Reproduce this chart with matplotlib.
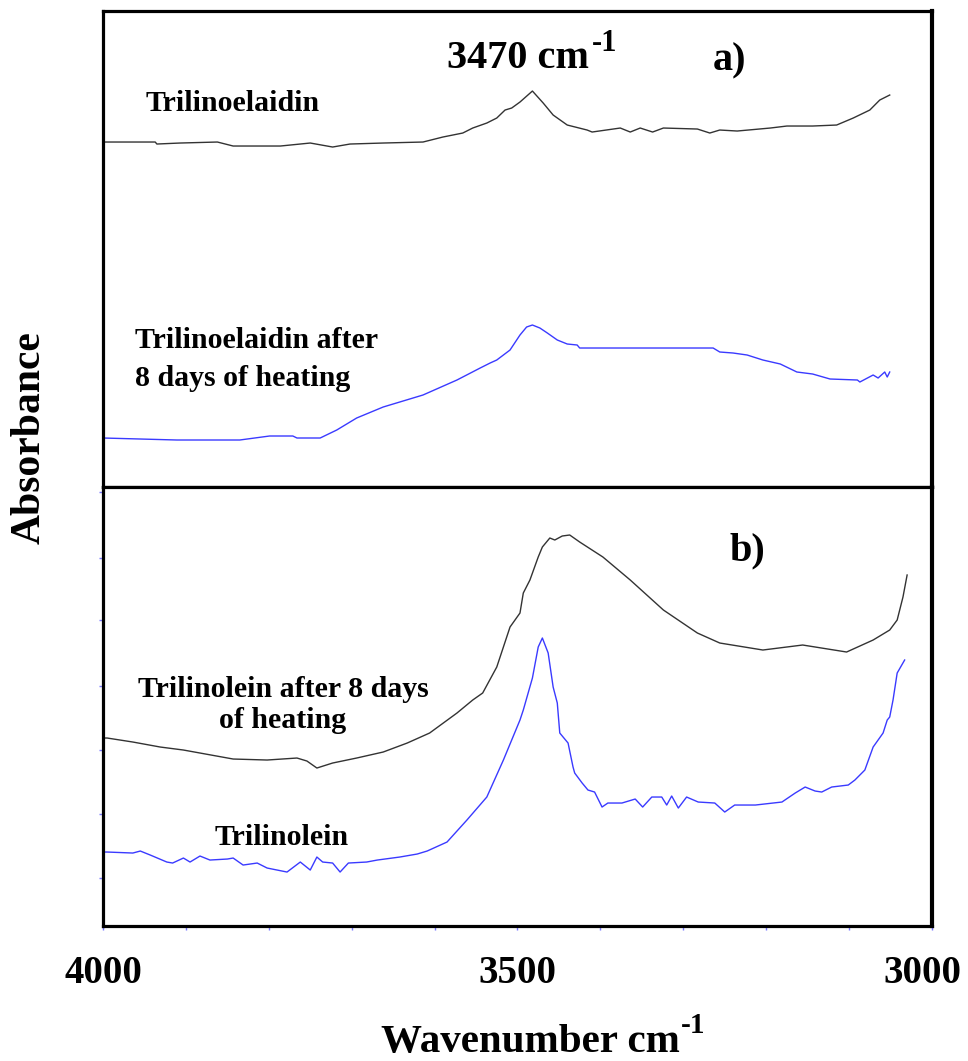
import numpy as np
import matplotlib
matplotlib.use('Agg')
import matplotlib.pyplot as plt
import matplotlib.transforms as mtransforms

plt.rcParams['font.family'] = ['Liberation Serif', 'DejaVu Serif']
plt.rcParams['font.weight'] = 'bold'

# spectra: (wavenumber cm-1, absorbance in arbitrary offset units)
trilinoelaidin = np.array([
    (4000, 3.45), (3937, 3.45), (3935, 3.43), (3907, 3.44), (3862, 3.45), (3843, 3.41),
    (3786, 3.41), (3750, 3.44), (3723, 3.40), (3702, 3.43), (3662, 3.44), (3614, 3.45),
    (3590, 3.50), (3566, 3.54), (3554, 3.59), (3537, 3.64), (3525, 3.69), (3515, 3.77),
    (3507, 3.79), (3497, 3.85), (3482, 3.96), (3469, 3.84), (3457, 3.72), (3440, 3.62),
    (3416, 3.57), (3410, 3.55), (3376, 3.59), (3364, 3.55), (3352, 3.59), (3337, 3.55),
    (3324, 3.59), (3283, 3.58), (3268, 3.54), (3256, 3.57), (3235, 3.56), (3195, 3.59),
    (3175, 3.61), (3144, 3.61), (3115, 3.62), (3095, 3.69), (3075, 3.77), (3063, 3.87),
    (3051, 3.92)])

trilinoelaidin_heated = np.array([
    (4000, 0.49), (3911, 0.47), (3835, 0.47), (3799, 0.51), (3771, 0.51), (3766, 0.49),
    (3738, 0.49), (3718, 0.57), (3694, 0.69), (3662, 0.80), (3614, 0.92), (3573, 1.07),
    (3545, 1.19), (3533, 1.24), (3525, 1.27), (3509, 1.37), (3497, 1.52), (3489, 1.60),
    (3482, 1.62), (3473, 1.59), (3464, 1.54), (3452, 1.47), (3440, 1.43), (3428, 1.42),
    (3425, 1.39), (3304, 1.39), (3264, 1.39), (3256, 1.35), (3240, 1.34), (3223, 1.32),
    (3204, 1.27), (3183, 1.23), (3163, 1.15), (3144, 1.13), (3123, 1.08), (3090, 1.07),
    (3087, 1.05), (3071, 1.12), (3065, 1.09), (3057, 1.15), (3054, 1.10), (3051, 1.15)])

trilinolein_heated = np.array([
    (4000, 1.88), (3995, 1.88), (3964, 1.84), (3931, 1.79), (3903, 1.76), (3883, 1.73),
    (3843, 1.67), (3802, 1.66), (3766, 1.68), (3754, 1.65), (3742, 1.58), (3723, 1.63),
    (3694, 1.68), (3662, 1.74), (3633, 1.83), (3606, 1.93), (3573, 2.13), (3554, 2.26),
    (3542, 2.33), (3525, 2.59), (3509, 2.99), (3497, 3.13), (3493, 3.33), (3485, 3.46),
    (3475, 3.69), (3470, 3.79), (3461, 3.88), (3455, 3.86), (3446, 3.90), (3437, 3.91),
    (3425, 3.84), (3397, 3.69), (3364, 3.46), (3324, 3.16), (3283, 2.93), (3256, 2.83),
    (3204, 2.76), (3156, 2.81), (3103, 2.74), (3071, 2.86), (3051, 2.96), (3042, 3.06),
    (3035, 3.29), (3030, 3.51)])

trilinolein = np.array([
    (4000, 0.74), (3995, 0.74), (3964, 0.73), (3955, 0.75), (3943, 0.71), (3923, 0.64),
    (3916, 0.63), (3903, 0.68), (3895, 0.64), (3883, 0.70), (3871, 0.66), (3850, 0.67),
    (3843, 0.68), (3831, 0.61), (3814, 0.63), (3802, 0.58), (3778, 0.54), (3762, 0.64),
    (3750, 0.56), (3742, 0.69), (3735, 0.64), (3723, 0.63), (3714, 0.54), (3704, 0.63),
    (3682, 0.64), (3669, 0.66), (3642, 0.69), (3621, 0.72), (3609, 0.75), (3585, 0.84),
    (3561, 1.06), (3537, 1.29), (3517, 1.66), (3497, 2.06), (3493, 2.16), (3482, 2.48),
    (3475, 2.79), (3470, 2.88), (3463, 2.73), (3457, 2.39), (3452, 2.23), (3449, 1.93),
    (3439, 1.83), (3433, 1.59), (3431, 1.53), (3422, 1.43), (3415, 1.36), (3407, 1.34),
    (3398, 1.19), (3391, 1.23), (3374, 1.23), (3358, 1.27), (3349, 1.19), (3338, 1.29),
    (3326, 1.29), (3320, 1.21), (3314, 1.30), (3306, 1.18), (3296, 1.29), (3282, 1.24),
    (3262, 1.23), (3250, 1.14), (3238, 1.21), (3213, 1.21), (3181, 1.24), (3165, 1.33),
    (3153, 1.39), (3141, 1.35), (3133, 1.34), (3121, 1.39), (3101, 1.41), (3093, 1.46),
    (3081, 1.56), (3071, 1.79), (3059, 1.93), (3054, 2.06), (3051, 2.09), (3047, 2.26),
    (3042, 2.53), (3033, 2.66)])

x_ticks = [4000, 3500, 3000]
x_ticklabels = ['4000', '3500', '3000']

fig = plt.figure(figsize=(9.68, 10.61), dpi=100)
ax_top = fig.add_axes([0.1064, 0.541, 0.8564, 0.4486])
ax_bot = fig.add_axes([0.1064, 0.1272, 0.8564, 0.4138])

black = '#333333'
blue = '#3a3aff'
tick_col = '#7a7aff'

# panel a)
ax_top.plot(trilinoelaidin[:, 0], trilinoelaidin[:, 1], color=black, lw=1.0)
ax_top.plot(trilinoelaidin_heated[:, 0], trilinoelaidin_heated[:, 1], color=blue, lw=1.0)
ax_top.set_xlim(4000, 3000)
ax_top.set_ylim(0, 4.76)
ax_top.tick_params(length=0, labelbottom=False, labelleft=False)

ax_top.text(3949, 3.76, 'Trilinoelaidin', fontsize=21.5, ha='left', va='baseline')
peak_txt = ax_top.text(3585, 4.19, '3470 cm', fontsize=29, ha='left', va='baseline')
ax_top.annotate('-1', xy=(1, 0.52), xycoords=peak_txt, xytext=(2, 0),
                textcoords='offset points', fontsize=22, ha='left', va='bottom')
ax_top.text(3264, 4.17, 'a)', fontsize=29, ha='left', va='baseline')
ax_top.text(3961, 1.39, 'Trilinoelaidin after', fontsize=21.5, ha='left', va='baseline')
ax_top.text(3961, 1.01, '8 days of heating', fontsize=21.5, ha='left', va='baseline')

# panel b)
ax_bot.plot(trilinolein_heated[:, 0], trilinolein_heated[:, 1], color=black, lw=1.0)
ax_bot.plot(trilinolein[:, 0], trilinolein[:, 1], color=blue, lw=1.0)
ax_bot.set_xlim(4000, 3000)
ax_bot.set_ylim(0, 4.39)

ax_bot.text(3244, 3.66, 'b)', fontsize=29, ha='left', va='baseline')
ax_bot.text(3783, 2.29, 'Trilinolein after 8 days', fontsize=21.5, ha='center', va='baseline')
ax_bot.text(3783, 1.98, 'of heating', fontsize=21.5, ha='center', va='baseline')
ax_bot.text(3865, 0.81, 'Trilinolein', fontsize=21.5, ha='left', va='baseline')

ax_bot.set_xticks(x_ticks)
ax_bot.set_xticklabels(x_ticklabels)
ax_bot.set_xticks(np.arange(3100, 4000, 100), minor=True)
ax_bot.set_yticks([0.48, 1.12, 1.76, 2.40, 3.06, 3.68, 4.34])
ax_bot.tick_params(axis='x', which='both', direction='out', length=3, width=1,
                   color=tick_col, labelsize=28, pad=18)
ax_bot.tick_params(axis='y', direction='out', length=3, width=1,
                   color=tick_col, labelleft=False)

# the last label sits a bit inside the frame in the original
last = ax_bot.get_xticklabels()[-1]
last.set_transform(last.get_transform() + mtransforms.ScaledTranslation(-10 / 100, 0, fig.dpi_scale_trans))

for ax in (ax_top, ax_bot):
    for side in ax.spines:
        ax.spines[side].set_linewidth(2.3)
        ax.spines[side].set_color('black')
    ax.spines['right'].set_linewidth(3.0)

fig.text(0.031, 0.588, 'Absorbance', rotation=90, fontsize=30, ha='center', va='center')
xl = fig.text(0.548, 0.0085, 'Wavenumber cm', fontsize=29.5, ha='center', va='baseline')
ax_bot.annotate('-1', xy=(1, 0.6), xycoords=xl, xytext=(1, 0),
                textcoords='offset points', fontsize=21, ha='left', va='bottom',
                annotation_clip=False)

fig.savefig('out.png', dpi=100)
